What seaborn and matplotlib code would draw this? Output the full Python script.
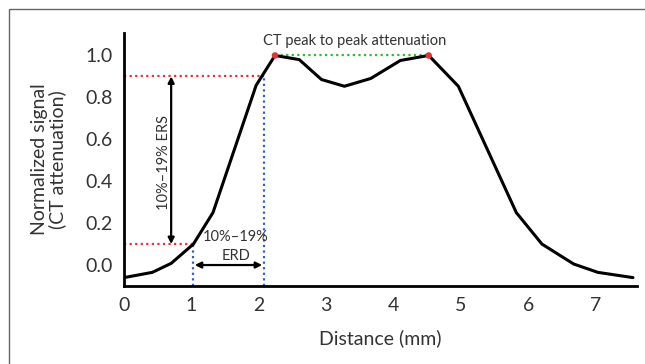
# Libraries
# =====================================================================
import numpy as np
import pandas as pd
import seaborn as sns
import matplotlib.pyplot as plt
from matplotlib.patches import Rectangle

# Data
# =====================================================================
distance = [0, 0.42, 0.70, 1.03, 1.32, 1.96, 2.24, 2.60, 2.93, 3.27, 3.66,
            4.10, 4.52, 4.96, 5.82, 6.20, 6.67, 7.03, 7.55]
signal = [-0.06, -0.035, 0.008, 0.10, 0.25, 0.857, 1.00, 0.98, 0.885, 0.853,
          0.89, 0.976, 1.00, 0.853, 0.25, 0.10, 0.005, -0.035, -0.06]

peaks_x = [2.24, 4.52]
peaks_y = [1.0, 1.0]

low_x, low_y = 1.03, 0.10     # 10% point
high_x, high_y = 2.07, 0.90   # 90% point

xticks = [0, 1, 2, 3, 4, 5, 6, 7]
yticks = [0.0, 0.2, 0.4, 0.6, 0.8, 1.0]

df = pd.DataFrame({'distance': distance, 'signal': signal})
dfp = pd.DataFrame({'x': peaks_x, 'y': peaks_y})

# Visualization
# =====================================================================
sns.set_style("white")
plt.rcParams['font.family'] = ['Lato', 'DejaVu Sans']
txt = '#333333'

fig = plt.figure(figsize=(6.45, 3.64), dpi=100)
ax = fig.add_axes([0.1922, 0.2143, 0.7954, 0.695])

# Frame around the figure
fig.patches.append(Rectangle((9 / 645, -0.1), 1.2, 1 - 9 / 364 + 0.1,
                             transform=fig.transFigure, fill=False,
                             edgecolor='#666666', linewidth=1.0))

# Guide lines
ax.plot([0, high_x], [high_y, high_y], color='#e8312f', linestyle=(0, (1, 1.5)), linewidth=1.6)
ax.plot([0, low_x], [low_y, low_y], color='#e8312f', linestyle=(0, (1, 1.5)), linewidth=1.6)
ax.plot([low_x, low_x], [-0.1, low_y], color='#2f5fc4', linestyle=(0, (1, 1.5)), linewidth=1.6)
ax.plot([high_x, high_x], [-0.1, high_y], color='#2f5fc4', linestyle=(0, (1, 1.5)), linewidth=1.6)
ax.plot(peaks_x, peaks_y, color='#2fb83a', linestyle=(0, (1, 1.5)), linewidth=1.6)

# Profile curve
sns.lineplot(data=df, x='distance', y='signal', color='black', linewidth=2.2, ax=ax, zorder=3)
sns.scatterplot(data=dfp, x='x', y='y', color='#e8312f', s=22, edgecolor='none', ax=ax, zorder=4)

# Arrows
ax.annotate('', xy=(0.70, low_y), xytext=(0.70, high_y),
            arrowprops=dict(arrowstyle='<|-|>', color='black', lw=1.6, mutation_scale=9,
                            shrinkA=0, shrinkB=0))
ax.annotate('', xy=(low_x + 0.02, 0.0), xytext=(high_x - 0.02, 0.0),
            arrowprops=dict(arrowstyle='<|-|>', color='black', lw=1.6, mutation_scale=9,
                            shrinkA=0, shrinkB=0))

# Labels
ax.text(0.60, 0.49, '10%–19% ERS', rotation=90, ha='center', va='center', fontsize=10.5, color=txt)
ax.text(1.66, 0.135, '10%–19%', ha='center', va='center', fontsize=10.5, color=txt)
ax.text(1.66, 0.045, 'ERD', ha='center', va='center', fontsize=10.5, color=txt)
ax.text(3.42, 1.07, 'CT peak to peak attenuation', ha='center', va='center', fontsize=10.5, color=txt)

# Axes configuration
ax.set_xlim(0, 7.61)
ax.set_ylim(-0.1, 1.107)
ax.set_xticks(xticks)
ax.set_yticks(yticks)
ax.set_xticklabels([str(t) for t in xticks])
ax.set_yticklabels([f'{t:.1f}' for t in yticks])
ax.tick_params(axis='both', direction='in', length=4, width=1.5, labelsize=14, colors='black',
               labelcolor=txt, pad=8)
ax.set_xlabel('Distance (mm)', fontsize=14, color=txt, labelpad=11)
ax.set_ylabel('Normalized signal\n(CT attenuation)', fontsize=14, color=txt, labelpad=14,
              linespacing=1.0)
sns.despine(ax=ax)
for s in ['left', 'bottom']:
    ax.spines[s].set_linewidth(2)
    ax.spines[s].set_color('black')

fig.savefig('out.png', dpi=100)
